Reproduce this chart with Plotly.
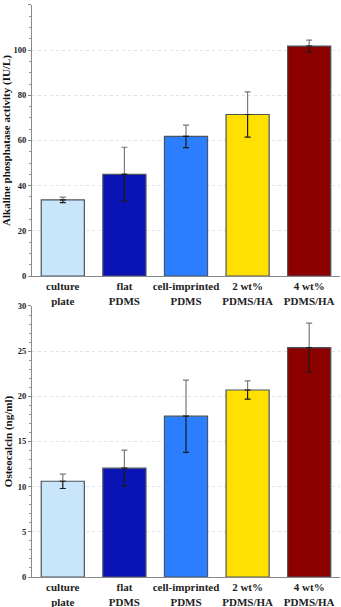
import plotly.graph_objects as go
from plotly.subplots import make_subplots

groups = ["culture<br>plate", "flat<br>PDMS", "cell-imprinted<br>PDMS", "2 wt%<br>PDMS/HA", "4 wt%<br>PDMS/HA"]
alp_values = [33.7, 45.0, 61.8, 71.5, 101.8]
alp_errors = [1.2, 12.0, 5.0, 10.0, 2.6]
ocn_values = [10.6, 12.05, 17.8, 20.7, 25.4]
ocn_errors = [0.8, 2.0, 4.0, 1.0, 2.7]

bar_colors = ["#c9e5fa", "#0a14b4", "#2a7eff", "#ffe000", "#8c0000"]
serif = "Liberation Serif, Times New Roman, serif"

fig = make_subplots(rows=2, cols=1, vertical_spacing=0.05)

def add_panel(vals, errs, row):
    fig.add_trace(go.Bar(
        x=groups, y=vals, width=0.7,
        marker=dict(color=bar_colors, line=dict(color="#4a5560", width=1.2)),
        error_y=dict(type="data", array=errs, arrayminus=[0]*len(errs),
                     symmetric=False, color="#7a7a7a", thickness=1.2, width=3),
        showlegend=False), row=row, col=1)
    # lower half of error bar drawn darker over the bar
    fig.add_trace(go.Scatter(
        x=groups, y=vals, mode="markers", marker=dict(size=1, opacity=0),
        error_y=dict(type="data", array=[0]*len(errs), arrayminus=errs,
                     symmetric=False, color="#1a1a1a", thickness=1.2, width=3),
        showlegend=False, hoverinfo="skip"), row=row, col=1)

add_panel(alp_values, alp_errors, 1)
add_panel(ocn_values, ocn_errors, 2)

axis_font = dict(family=serif, size=8.5, color="#222", weight="bold")
title_font = dict(family=serif, size=11, color="#111", weight="bold")

for r, (rng, dt, title) in enumerate([([0, 120], 20, "Alkaline phosphatase activity (IU/L)"),
                                      ([0, 30], 5, "Osteocalcin (ng/ml)")], start=1):
    fig.update_yaxes(range=rng, dtick=dt, showline=True, linecolor="#888", linewidth=1,
                     ticks="outside", ticklen=3, tickcolor="#888", tickfont=axis_font,
                     showgrid=True, gridcolor="#dde3e6", griddash="dot", gridwidth=1,
                     minor=dict(ticks="outside", ticklen=2, tickcolor="#999", nticks=5,
                                showgrid=False),
                     zeroline=False, automargin=False,
                     title=dict(text=title, font=title_font, standoff=2),
                     row=r, col=1)
    fig.update_xaxes(showline=True, linecolor="#888", linewidth=1, ticks="",
                     tickfont=dict(family=serif, size=11, color="#222", weight="bold"),
                     showgrid=False, automargin=False,
                     row=r, col=1)

fig.update_layout(
    width=341, height=607,
    margin=dict(l=32, r=1, t=0, b=0),
    plot_bgcolor="white", paper_bgcolor="white",
    bargap=0.3,
)
fig.update_layout(
    yaxis=dict(domain=[0.5453, 0.9918]),
    yaxis2=dict(domain=[0.0494, 0.4959]),
)

fig.write_html("out.html", config={"displayModeBar": False},
               post_script="document.body.style.margin='0';")
